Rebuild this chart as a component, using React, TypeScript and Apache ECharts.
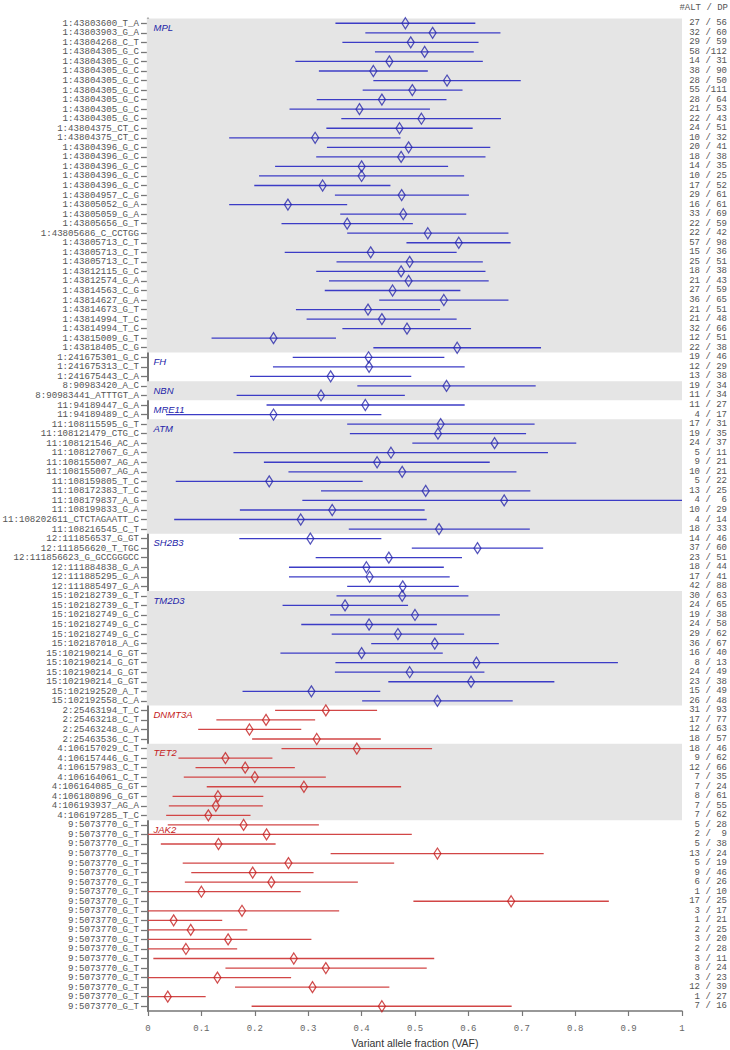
import React, { useEffect, useRef } from 'react';
import * as echarts from 'echarts';

const variants = [
  '1:43803600_T_A', '1:43803903_G_A', '1:43804268_C_T',
  '1:43804305_G_C', '1:43804305_G_C', '1:43804305_G_C', '1:43804305_G_C',
  '1:43804305_G_C', '1:43804305_G_C', '1:43804305_G_C', '1:43804305_G_C',
  '1:43804375_CT_C', '1:43804375_CT_C',
  '1:43804396_G_C', '1:43804396_G_C', '1:43804396_G_C', '1:43804396_G_C', '1:43804396_G_C',
  '1:43804957_C_G', '1:43805052_G_A', '1:43805059_G_A', '1:43805656_G_T', '1:43805686_C_CCTGG',
  '1:43805713_C_T', '1:43805713_C_T', '1:43805713_C_T',
  '1:43812115_G_C', '1:43812574_G_A', '1:43814563_C_G', '1:43814627_G_A', '1:43814673_G_T',
  '1:43814994_T_C', '1:43814994_T_C', '1:43815009_G_T', '1:43818405_C_G',
  '1:241675301_G_C', '1:241675313_C_T', '1:241675443_C_A',
  '8:90983420_A_C', '8:90983441_ATTTGT_A',
  '11:94189447_G_A', '11:94189489_C_A',
  '11:108115595_G_T', '11:108121479_CTG_C', '11:108121546_AC_A', '11:108127067_G_A',
  '11:108155007_AG_A', '11:108155007_AG_A', '11:108159805_T_C', '11:108172383_T_C',
  '11:108179837_A_G', '11:108199833_G_A', '11:108202611_CTCTAGAATT_C', '11:108216545_C_T',
  '12:111856537_G_GT', '12:111856620_T_TGC', '12:111856623_G_GCCGGGCC',
  '12:111884838_G_A', '12:111885295_G_A', '12:111885497_G_A',
  '15:102182739_G_T', '15:102182739_G_T', '15:102182749_G_C', '15:102182749_G_C',
  '15:102182749_G_C', '15:102187018_A_G', '15:102190214_G_GT', '15:102190214_G_GT',
  '15:102190214_G_GT', '15:102190214_G_GT', '15:102192520_A_T', '15:102192558_C_A',
  '2:25463194_T_C', '2:25463218_C_T', '2:25463248_G_A', '2:25463536_C_T',
  '4:106157029_C_T', '4:106157446_G_T', '4:106157983_C_T', '4:106164061_C_T',
  '4:106164085_G_GT', '4:106180896_G_GT', '4:106193937_AG_A', '4:106197285_T_C',
  '9:5073770_G_T', '9:5073770_G_T', '9:5073770_G_T', '9:5073770_G_T', '9:5073770_G_T',
  '9:5073770_G_T', '9:5073770_G_T', '9:5073770_G_T', '9:5073770_G_T', '9:5073770_G_T',
  '9:5073770_G_T', '9:5073770_G_T', '9:5073770_G_T', '9:5073770_G_T', '9:5073770_G_T',
  '9:5073770_G_T', '9:5073770_G_T', '9:5073770_G_T', '9:5073770_G_T', '9:5073770_G_T',
];

const altCounts = [
  27, 32, 29, 58, 14, 38, 28, 55, 28, 21, 22, 24, 10, 20, 18, 14, 10, 17, 29, 16, 33, 22, 22, 57, 15, 25, 18, 21, 27, 36, 21, 21, 32, 12, 22,
  19, 12, 13,
  19, 11,
  11, 4,
  17, 19, 24, 5, 9, 10, 5, 13, 4, 10, 4, 18,
  14, 37, 23, 18, 17, 42,
  30, 24, 19, 24, 29, 36, 16, 8, 24, 23, 15, 26,
  31, 17, 12, 18,
  18, 9, 12, 7, 7, 8, 7, 7,
  5, 2, 5, 13, 5, 9, 6, 1, 17, 3, 1, 2, 3, 2, 3, 8, 3, 12, 1, 7,
];

const depths = [
  56, 60, 59, 112, 31, 90, 50, 111, 64, 53, 43, 51, 32, 41, 38, 35, 25, 52, 61, 61, 69, 59, 42, 98, 36, 51, 38, 43, 59, 65, 51, 48, 66, 51, 38,
  46, 29, 38,
  34, 34,
  27, 17,
  31, 35, 37, 11, 21, 21, 22, 25, 6, 29, 14, 33,
  46, 60, 51, 44, 41, 88,
  63, 65, 38, 58, 62, 67, 40, 13, 49, 38, 49, 48,
  93, 77, 63, 57,
  46, 62, 66, 35, 24, 61, 55, 62,
  28, 9, 38, 24, 19, 46, 26, 10, 25, 17, 21, 25, 20, 28, 11, 24, 23, 39, 27, 16,
];

const vaf = [
  0.482, 0.533, 0.492, 0.518, 0.452, 0.422, 0.560, 0.495, 0.438, 0.396, 0.512, 0.471, 0.313, 0.488, 0.474, 0.400, 0.400, 0.327,
  0.475, 0.262, 0.478, 0.373, 0.524, 0.582, 0.417, 0.490, 0.474, 0.488, 0.458, 0.554, 0.412, 0.438, 0.485, 0.235, 0.579,
  0.413, 0.414, 0.342,
  0.559, 0.324,
  0.407, 0.235,
  0.548, 0.543, 0.649, 0.455, 0.429, 0.476, 0.227, 0.520, 0.667, 0.345, 0.286, 0.545,
  0.304, 0.617, 0.451, 0.409, 0.415, 0.477,
  0.476, 0.369, 0.500, 0.414, 0.468, 0.537, 0.400, 0.615, 0.490, 0.605, 0.306, 0.542,
  0.333, 0.221, 0.190, 0.316,
  0.391, 0.145, 0.182, 0.200, 0.292, 0.131, 0.127, 0.113,
  0.179, 0.222, 0.132, 0.542, 0.263, 0.196, 0.231, 0.100, 0.680, 0.176, 0.048, 0.080, 0.150, 0.071, 0.273, 0.333, 0.130, 0.308, 0.037, 0.438,
];

const ciLow = [
  0.351, 0.407, 0.364, 0.425, 0.276, 0.320, 0.422, 0.402, 0.316, 0.265, 0.362, 0.334, 0.152, 0.335, 0.315, 0.238, 0.208, 0.199,
  0.350, 0.152, 0.360, 0.250, 0.373, 0.484, 0.256, 0.353, 0.315, 0.339, 0.331, 0.433, 0.277, 0.297, 0.364, 0.119, 0.422,
  0.271, 0.234, 0.191,
  0.392, 0.166,
  0.222, 0.034,
  0.373, 0.378, 0.495, 0.160, 0.217, 0.263, 0.052, 0.324, 0.289, 0.172, 0.049, 0.376,
  0.171, 0.494, 0.314, 0.264, 0.264, 0.373,
  0.353, 0.252, 0.341, 0.287, 0.344, 0.418, 0.248, 0.351, 0.350, 0.450, 0.177, 0.401,
  0.238, 0.128, 0.094, 0.195,
  0.250, 0.057, 0.089, 0.067, 0.110, 0.046, 0.039, 0.034,
  0.037, 0.000, 0.024, 0.342, 0.065, 0.081, 0.069, 0.000, 0.497, 0.000, 0.000, 0.000, 0.000, 0.000, 0.010, 0.145, 0.000, 0.163, 0.000, 0.194,
];

const ciHigh = [
  0.613, 0.660, 0.619, 0.610, 0.627, 0.524, 0.698, 0.589, 0.559, 0.528, 0.661, 0.608, 0.473, 0.641, 0.632, 0.562, 0.592, 0.454,
  0.601, 0.373, 0.596, 0.496, 0.675, 0.679, 0.578, 0.627, 0.632, 0.638, 0.585, 0.675, 0.547, 0.578, 0.605, 0.352, 0.736,
  0.555, 0.593, 0.493,
  0.726, 0.481,
  0.593, 0.437,
  0.724, 0.708, 0.802, 0.749, 0.640, 0.690, 0.402, 0.716, 1.000, 0.518, 0.522, 0.715,
  0.437, 0.740, 0.588, 0.554, 0.565, 0.582,
  0.600, 0.487, 0.659, 0.541, 0.592, 0.657, 0.552, 0.880, 0.630, 0.761, 0.435, 0.683,
  0.429, 0.313, 0.287, 0.436,
  0.532, 0.233, 0.275, 0.333, 0.474, 0.216, 0.215, 0.192,
  0.320, 0.494, 0.239, 0.741, 0.461, 0.310, 0.393, 0.286, 0.863, 0.358, 0.139, 0.186, 0.306, 0.167, 0.536, 0.522, 0.268, 0.452, 0.108, 0.681,
];

const genes = ['MPL', 'FH', 'NBN', 'MRE11', 'ATM', 'SH2B3', 'TM2D3', 'DNMT3A', 'TET2', 'JAK2'];
const geneFirstRow = [0, 35, 38, 40, 42, 54, 60, 72, 76, 84];
const geneLastRow = [34, 37, 39, 41, 53, 59, 71, 75, 83, 103];
const geneShaded = [true, false, true, false, true, false, true, false, true, false];
const geneIsChip = [false, false, false, false, false, false, false, true, true, true];

const xTickLabels = ['0', '0.1', '0.2', '0.3', '0.4', '0.5', '0.6', '0.7', '0.8', '0.9', '1'];

const BLUE_LINE = '#3c3cc6';
const BLUE_MARK = '#2828aa';
const BLUE_TEXT = '#2323a8';
const RED_LINE = '#d24646';
const RED_MARK = '#c41f1f';
const RED_TEXT = '#c42020';
const BAND = '#e5e5e5';
const MONO = '"Liberation Mono", "DejaVu Sans Mono", monospace';
const SANS = '"Liberation Sans", Arial, sans-serif';

function rowIsRed(i: number): boolean {
  for (let k = 0; k < genes.length; k++) {
    if (i >= geneFirstRow[k] && i <= geneLastRow[k]) return geneIsChip[k];
  }
  return false;
}

export default function App() {
  const ref = useRef<HTMLDivElement>(null);

  useEffect(() => {
    if (!ref.current) return;
    const chart = echarts.init(ref.current, null, { renderer: 'svg' });
    const rowIds = variants.map((_, i) => String(i));

    const option: any = {
      animation: false,
      backgroundColor: '#ffffff',
      grid: { left: 148, right: 48, top: 18.5, bottom: 39, outerBoundsMode: 'none' },
      graphic: [
        {
          type: 'text',
          right: 2,
          top: 3,
          style: { text: '#ALT / DP', fontFamily: MONO, fontSize: 9, fill: '#555' },
        },
      ],
      xAxis: {
        type: 'value',
        min: 0,
        max: 1,
        interval: 0.1,
        name: 'Variant allele fraction (VAF)',
        nameLocation: 'middle',
        nameGap: 24,
        nameTextStyle: { fontFamily: SANS, fontSize: 10.5, color: '#333' },
        axisLine: { show: true, onZero: false, lineStyle: { color: '#777', width: 1.5 } },
        axisTick: { show: true, length: 5, lineStyle: { color: '#777', width: 1.2 } },
        axisLabel: {
          fontFamily: MONO,
          fontSize: 9,
          color: '#666',
          margin: 13,
          formatter: (v: number) => xTickLabels[Math.round(v * 10)],
        },
        splitLine: { show: false },
      },
      yAxis: [
        {
          type: 'category',
          inverse: true,
          data: rowIds,
          axisLine: { show: true, onZero: false, lineStyle: { color: '#777', width: 2 } },
          axisTick: { show: true, alignWithLabel: true, interval: 0, length: 7, lineStyle: { color: '#777', width: 1.3 } },
          axisLabel: {
            interval: 0,
            margin: 9,
            fontFamily: MONO,
            fontSize: 9.1,
            color: '#555',
            formatter: (v: string) => variants[Number(v)],
          },
          splitLine: { show: false },
        },
        {
          type: 'category',
          inverse: true,
          position: 'right',
          data: rowIds,
          axisLine: { show: false },
          axisTick: { show: false },
          axisLabel: {
            interval: 0,
            margin: 45,
            align: 'right',
            fontFamily: MONO,
            fontSize: 9,
            color: '#555',
            formatter: (v: string) => {
              const i = Number(v);
              return `{a|${altCounts[i]}}{b|/}{c|${depths[i]}}`;
            },
            rich: {
              a: { width: 10.8, align: 'right', fontFamily: MONO, fontSize: 9, color: '#555' },
              b: { width: 10.8, align: 'right', fontFamily: MONO, fontSize: 9, color: '#555' },
              c: { width: 16.2, align: 'right', fontFamily: MONO, fontSize: 9, color: '#555' },
            },
          },
          splitLine: { show: false },
        },
      ],
      series: [
        {
          type: 'custom',
          name: 'genes',
          xAxisIndex: 0,
          yAxisIndex: 0,
          z: 3,
          silent: true,
          encode: { x: 0, y: [1, 2] },
          data: genes.map((g, k) => [0, geneFirstRow[k], geneLastRow[k], k]),
          renderItem: (params: any, api: any) => {
            const k = api.value(3);
            const first = api.value(1);
            const last = api.value(2);
            const pTop = api.coord([0, first]);
            const pBot = api.coord([1, last]);
            const h = api.size([0, 1])[1];
            const top = pTop[1] - h / 2;
            const bottom = pBot[1] + h / 2;
            const children: any[] = [];
            if (geneShaded[k]) {
              children.push({
                type: 'rect',
                shape: { x: pTop[0] - 1.2, y: top, width: pBot[0] - pTop[0] + 1.2, height: bottom - top },
                style: { fill: BAND },
              });
            }
            children.push({
              type: 'text',
              x: pTop[0] + 5.5,
              y: top + 9,
              style: {
                text: genes[k],
                fill: geneIsChip[k] ? RED_TEXT : BLUE_TEXT,
                fontFamily: SANS,
                fontSize: 9.5,
                fontStyle: 'italic',
                align: 'left',
                verticalAlign: 'middle',
              },
            });
            return { type: 'group', children };
          },
        },
        {
          type: 'custom',
          name: 'ci',
          xAxisIndex: 0,
          yAxisIndex: 0,
          z: 4,
          silent: true,
          encode: { x: [0, 1], y: 2 },
          data: vaf.map((_, i) => [ciLow[i], ciHigh[i], i]),
          renderItem: (params: any, api: any) => {
            const i = api.value(2);
            const a = api.coord([api.value(0), i]);
            const b = api.coord([api.value(1), i]);
            return {
              type: 'line',
              shape: { x1: a[0], y1: a[1], x2: b[0], y2: b[1] },
              style: { stroke: rowIsRed(i) ? RED_LINE : BLUE_LINE, lineWidth: 1.3 },
            };
          },
        },
        {
          type: 'scatter',
          name: 'vaf',
          xAxisIndex: 0,
          yAxisIndex: 0,
          z: 5,
          silent: true,
          symbol: 'diamond',
          symbolSize: [7, 11],
          data: vaf.map((v, i) => ({
            value: [v, i],
            itemStyle: {
              color: 'rgba(0,0,0,0)',
              borderColor: rowIsRed(i) ? RED_MARK : BLUE_MARK,
              borderWidth: 1.3,
            },
          })),
        },
      ],
    };

    chart.setOption(option);
    return () => {
      chart.dispose();
    };
  }, []);

  return (
    <div
      ref={ref}
      style={{ position: 'absolute', left: 0, top: 0, width: 730, height: 1050, background: '#fff' }}
    />
  );
}
